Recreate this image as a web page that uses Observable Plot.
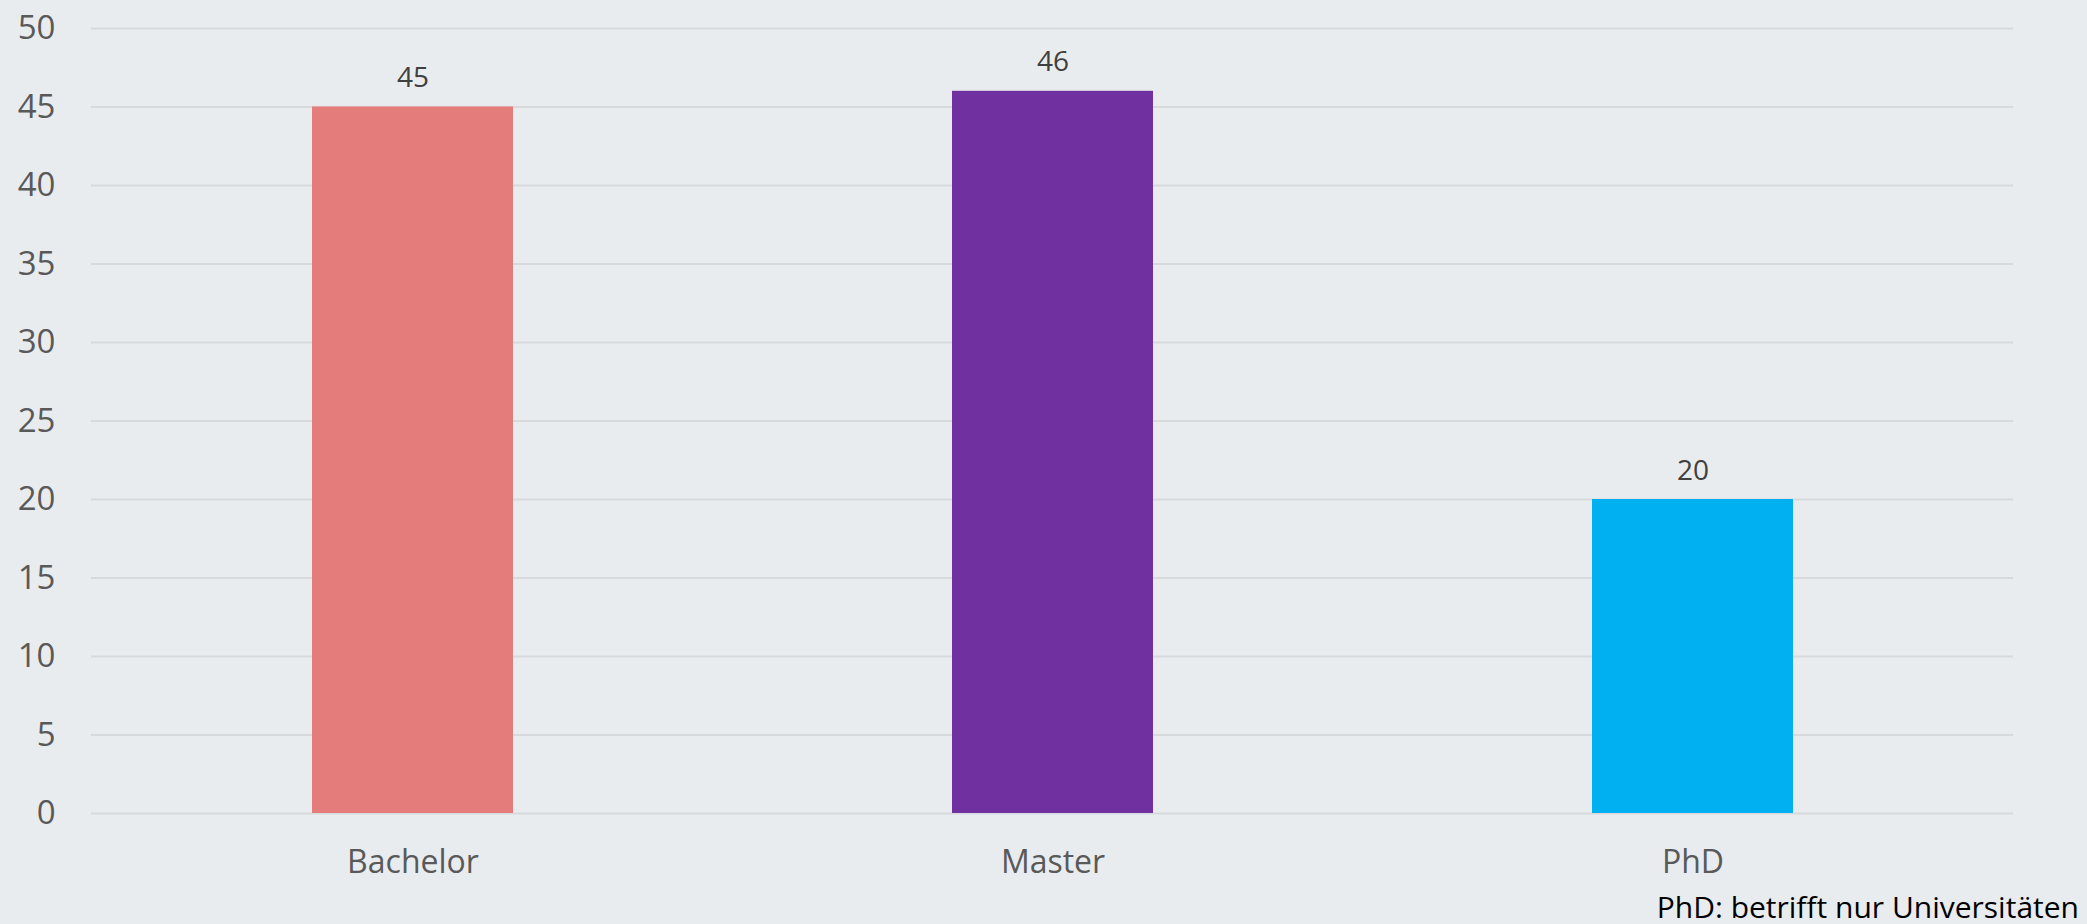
<!DOCTYPE html>
<html>
<head>
<meta charset="utf-8">
<script src="https://cdn.jsdelivr.net/npm/d3@7"></script>
<script src="https://cdn.jsdelivr.net/npm/@observablehq/plot@0.6"></script>
<style>
  html, body { margin: 0; padding: 0; background: #e9ecef; overflow: hidden; }
  #chart svg { display: block; }
  #note { font-family: "Open Sans", sans-serif; font-size: 30px; line-height: 34px; height: 34px;
          text-align: right; padding-right: 8px; color: #000; }
</style>
</head>
<body>
<div id="chart"></div>
<div id="note"></div>
<script>
const categories = ["Bachelor", "Master", "PhD"];
const values = [45, 46, 20];
const barColors = ["#E47C7B", "#7030A0", "#00B0F0"];
const yTicks = [0, 5, 10, 15, 20, 25, 30, 35, 40, 45, 50];
const footnote = "PhD: betrifft nur Universitäten";

const data = categories.map((c, i) => ({category: c, value: values[i]}));

const chart = Plot.plot({
  width: 2087,
  height: 890,
  marginLeft: 91,
  marginRight: 74,
  marginTop: 28,
  marginBottom: 77,
  style: {background: "#e9ecef", fontFamily: "Open Sans, sans-serif"},
  x: {domain: categories, paddingInner: 0.686, paddingOuter: 0.343, label: null},
  y: {domain: [0, 50], label: null},
  color: {domain: categories, range: barColors},
  marks: [
    Plot.ruleY(yTicks, {stroke: "#d8d9db", strokeWidth: 2}),
    Plot.barY(data, {x: "category", y: "value", fill: "category"}),
    Plot.text(data, {x: "category", y: "value", text: d => String(d.value),
      lineAnchor: "bottom", dy: -20, fontSize: 28, fill: "#404040"}),
    Plot.axisX({tickSize: 0, tickPadding: 37, fontSize: 32, color: "#595959", label: null}),
    Plot.axisY({ticks: yTicks, tickSize: 0, tickPadding: 36, fontSize: 33, color: "#595959", label: null})
  ]
});
document.getElementById("chart").appendChild(chart);
document.getElementById("note").textContent = footnote;
</script>
</body>
</html>
